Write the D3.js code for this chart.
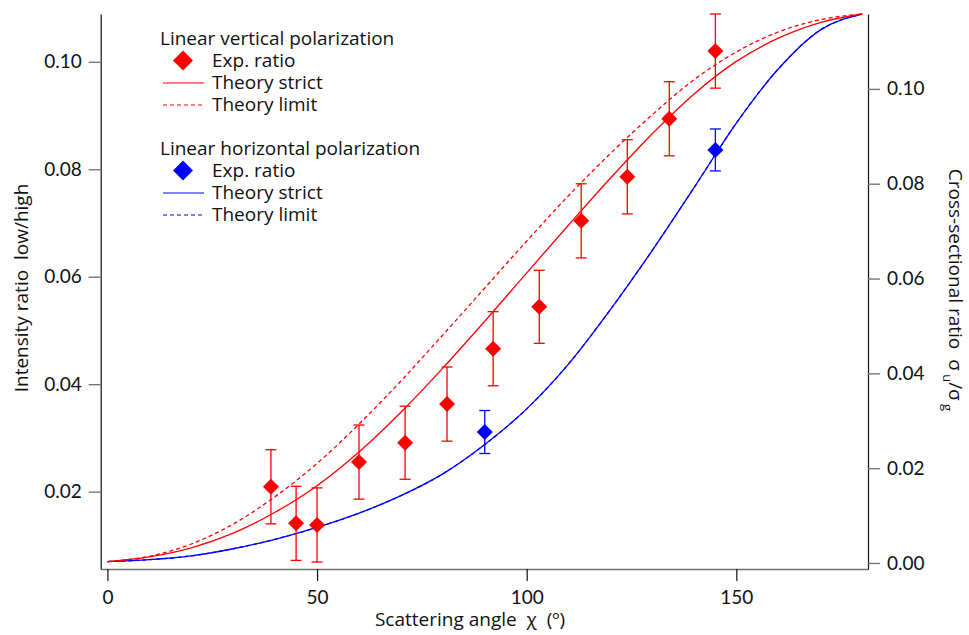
<!DOCTYPE html>
<html>
<head>
<meta charset="utf-8">
<script src="https://cdn.jsdelivr.net/npm/d3@7"></script>
<style>
  body { margin: 0; background: #fff; }
  svg { font-family: 'Open Sans', sans-serif; }
  text { white-space: pre; fill: #111; }
  .tick text { font-family: Lato, sans-serif; font-size: 19px; }
</style>
</head>
<body>
<div id="chart"></div>
<script>
// experimental intensity ratios (left axis)
const vertAngles = [39, 45, 50, 60, 71, 81, 92, 103, 113, 124, 134, 145];
const vertRatio = [0.0209, 0.0141, 0.0138, 0.0255, 0.0291, 0.0363, 0.0466, 0.0544, 0.0704, 0.0786, 0.0894, 0.1020];
const vertErr = [0.0069, 0.0069, 0.0069, 0.0069, 0.0068, 0.0069, 0.0069, 0.0068, 0.0069, 0.0069, 0.0069, 0.0069];

const horzAngles = [90, 145];
const horzRatio = [0.0311, 0.0836];
const horzErr = [0.0040, 0.0039];

// theory curves (right axis)
const theoryAngles = [0, 10, 20, 30, 40, 50, 60, 70, 80, 90, 100, 110, 120, 130, 140, 150, 160, 170, 180];
const vertStrict = [0.0003, 0.0013, 0.0032, 0.0063, 0.0107, 0.0163, 0.0234, 0.0318, 0.0411, 0.0510, 0.0612, 0.0713, 0.0812, 0.0906, 0.0990, 0.1058, 0.1107, 0.1140, 0.1158];
const vertLimit = [0.0003, 0.0014, 0.0040, 0.0082, 0.0140, 0.0210, 0.0293, 0.0384, 0.0481, 0.0580, 0.0679, 0.0775, 0.0864, 0.0946, 0.1020, 0.1078, 0.1120, 0.1146, 0.1158];
const horzStrict = [0.0003, 0.0007, 0.0015, 0.0030, 0.0050, 0.0075, 0.0105, 0.0142, 0.0188, 0.0250, 0.0325, 0.0420, 0.0535, 0.0660, 0.0793, 0.0928, 0.1042, 0.1124, 0.1158];
const horzLimit = [0.0003, 0.0007, 0.0015, 0.0030, 0.0050, 0.0075, 0.0105, 0.0142, 0.0188, 0.0250, 0.0325, 0.0420, 0.0535, 0.0660, 0.0793, 0.0928, 0.1042, 0.1124, 0.1158];

const xTicks = [0, 50, 100, 150];
const leftTicks = [0.02, 0.04, 0.06, 0.08, 0.10];
const rightTicks = [0.00, 0.02, 0.04, 0.06, 0.08, 0.10];

const RED = '#ff0000';
const BLUE = '#0000ff';

const width = 969;
const height = 635;
const plot = { left: 100.7, right: 868, top: 14, bottom: 569 };

const svg = d3.select('#chart').append('svg')
  .attr('width', width)
  .attr('height', height);

const x = d3.scaleLinear().domain([-1.6, 181.4]).range([plot.left, plot.right]);
const yL = d3.scaleLinear().domain([0.0056, 0.1089]).range([plot.bottom, plot.top]);
const yR = d3.scaleLinear().domain([-0.00127, 0.1158]).range([plot.bottom, plot.top]);

// axes
const xAxis = svg.append('g')
  .attr('transform', `translate(0,${plot.bottom})`)
  .call(d3.axisBottom(x).tickValues(xTicks).tickSize(12).tickSizeOuter(0).tickPadding(10));
xAxis.select('.domain').attr('stroke', '#707070').attr('stroke-width', 1.6);
xAxis.selectAll('.tick line').attr('stroke', '#111').attr('stroke-width', 1.2);

const lAxis = svg.append('g')
  .attr('transform', `translate(${plot.left},0)`)
  .call(d3.axisLeft(yL).tickValues(leftTicks).tickFormat(d3.format('.2f')).tickSize(12).tickSizeOuter(0).tickPadding(7));
lAxis.select('.domain').attr('stroke', '#111').attr('stroke-width', 1.2);
lAxis.selectAll('.tick line').attr('stroke', '#777').attr('stroke-width', 1.4);

const rAxis = svg.append('g')
  .attr('transform', `translate(${plot.right},0)`)
  .call(d3.axisRight(yR).tickValues(rightTicks).tickFormat(d3.format('.2f')).tickSize(12).tickSizeOuter(0).tickPadding(7));
rAxis.select('.domain').attr('stroke', '#111').attr('stroke-width', 1.2);
rAxis.selectAll('.tick line').attr('stroke', '#777').attr('stroke-width', 1.4);

// axis titles
svg.append('text')
  .attr('transform', 'translate(28,288) rotate(-90)')
  .attr('text-anchor', 'middle')
  .style('font-size', '19px')
  .text('Intensity ratio  low/high');

svg.append('text')
  .attr('x', 470).attr('y', 626)
  .attr('text-anchor', 'middle')
  .style('font-size', '19px')
  .text('Scattering angle  χ  (º)');

const rTitle = svg.append('text')
  .attr('transform', 'translate(949,290) rotate(90)')
  .attr('text-anchor', 'middle')
  .style('font-size', '19px');
rTitle.append('tspan').text('Cross-sectional ratio  σ');
rTitle.append('tspan').attr('dy', 6).style('font-size', '13px').text(' u');
rTitle.append('tspan').attr('dy', -6).text('/σ');
rTitle.append('tspan').attr('dy', 6).style('font-size', '13px').text(' g');

// theory curves
const line = (vals) => d3.line()
  .x((d, i) => x(theoryAngles[i]))
  .y(d => yR(d))
  .curve(d3.curveMonotoneX)(vals);

const curves = [
  { vals: horzLimit, color: BLUE, dash: '4,3' },
  { vals: horzStrict, color: BLUE, dash: null },
  { vals: vertLimit, color: RED, dash: '4,3' },
  { vals: vertStrict, color: RED, dash: null },
];
curves.forEach((c) => {
  svg.append('path')
    .attr('d', line(c.vals))
    .attr('fill', 'none')
    .attr('stroke', c.color)
    .attr('stroke-width', 1.3)
    .attr('stroke-dasharray', c.dash);
});

// experimental points with error bars
const diamond = (cx, cy, r) => `M${cx},${cy - r}L${cx + r},${cy}L${cx},${cy + r}L${cx - r},${cy}Z`;

const drawSeries = (angles, vals, errs, color) => {
  const g = svg.append('g');
  angles.forEach((a, i) => {
    const px = x(a);
    const top = yL(vals[i] + errs[i]);
    const bot = yL(vals[i] - errs[i]);
    g.append('line').attr('x1', px).attr('x2', px).attr('y1', top).attr('y2', bot)
      .attr('stroke', color).attr('stroke-width', 1.3);
    [top, bot].forEach((yy) => {
      g.append('line').attr('x1', px - 5.5).attr('x2', px + 5.5).attr('y1', yy).attr('y2', yy)
        .attr('stroke', color).attr('stroke-width', 1.3);
    });
    g.append('path').attr('d', diamond(px, yL(vals[i]), 8)).attr('fill', color);
  });
};
drawSeries(vertAngles, vertRatio, vertErr, RED);
drawSeries(horzAngles, horzRatio, horzErr, BLUE);

// legend
const legend = svg.append('g').style('font-size', '19px');
const groups = [
  { title: 'Linear vertical polarization', color: RED, y: 45 },
  { title: 'Linear horizontal polarization', color: BLUE, y: 155 },
];
groups.forEach((grp) => {
  legend.append('text').attr('x', 160).attr('y', grp.y).text(grp.title);
  const rows = [
    { label: 'Exp. ratio', kind: 'marker' },
    { label: 'Theory strict', kind: 'solid' },
    { label: 'Theory limit', kind: 'dash' },
  ];
  rows.forEach((r, i) => {
    const base = grp.y + 21.5 + i * 22;
    const mid = base - 5.5;
    if (r.kind === 'marker') {
      legend.append('path').attr('d', diamond(183, mid - 0.5, 10)).attr('fill', grp.color);
    } else {
      legend.append('line')
        .attr('x1', 163).attr('x2', 204).attr('y1', mid).attr('y2', mid)
        .attr('stroke', grp.color).attr('stroke-width', 1.2)
        .attr('stroke-dasharray', r.kind === 'dash' ? '4,3' : null);
    }
    legend.append('text').attr('x', 212).attr('y', base).text(r.label);
  });
});
</script>
</body>
</html>
